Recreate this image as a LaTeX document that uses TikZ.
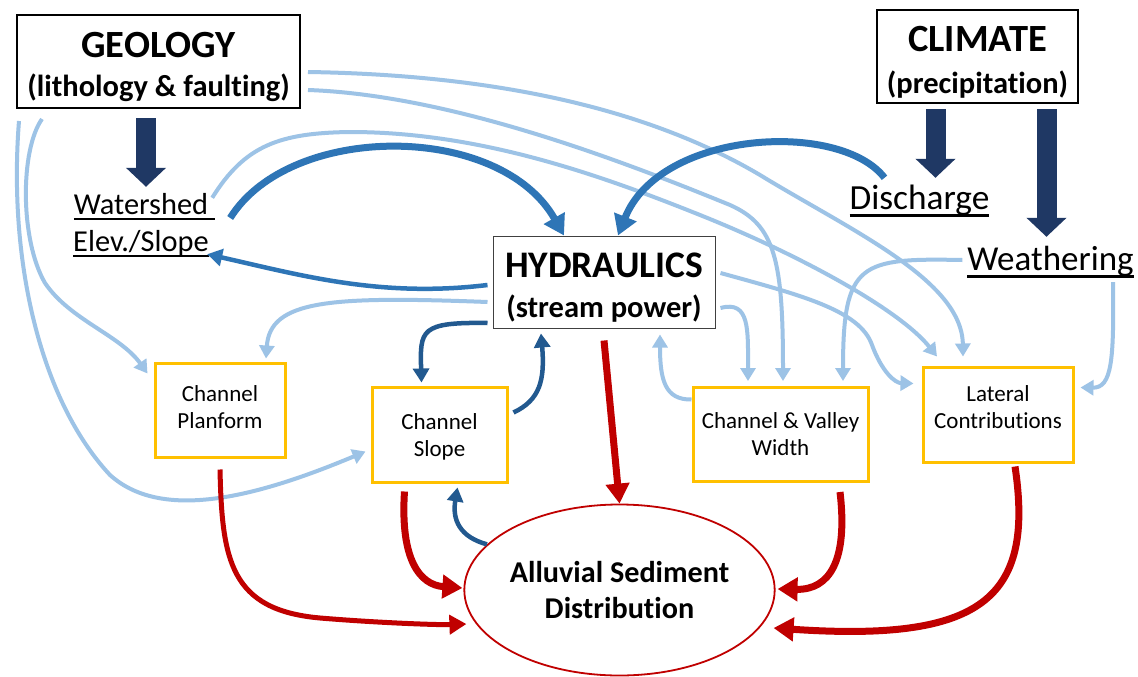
\documentclass[tikz,border=0pt]{standalone}
\usepackage{fontspec}
\setmainfont{Carlito}[Ligatures=NoCommon]
\usetikzlibrary{arrows.meta,shapes.geometric,calc}

\definecolor{lightblue}{HTML}{9DC3E6}
\definecolor{midblue}{HTML}{2E75B6}
\definecolor{darkblue}{HTML}{22598F}
\definecolor{navy}{HTML}{1F3864}
\definecolor{boxyellow}{HTML}{FFC000}
\definecolor{darkred}{HTML}{C00000}

% underlined word with a rule placed like a word-processor underline
\newlength\ulw
\newcommand{\uword}[1]{\settowidth{\ulw}{#1}\rlap{\rule[-0.2em]{\ulw}{0.065em}}#1}
% extra room above a first line (pushes a block of lines down)
\newcommand{\lift}[1]{\rule{0pt}{\dimexpr\fontcharht\font`l+#1\relax}}
% extra room below a last line (pushes a block of lines up)
\newcommand{\sink}[1]{\rule[-#1]{0pt}{#1}}

\begin{document}
\begin{tikzpicture}[x=1pt,y=-1pt,
  mainbox/.style={draw, line width=2pt, align=center, inner sep=0pt, font=\bfseries\fontsize{30.5}{37}\selectfont},
  factor/.style={draw=boxyellow, line width=3pt, align=center, inner sep=0pt, font=\fontsize{23}{27}\selectfont},
  label/.style={align=center, inner sep=0pt},
  lb/.style={lightblue, line width=4pt, -{Triangle[length=13pt,width=15pt]}},
  db/.style={darkblue, line width=4.5pt, -{Triangle[length=14pt,width=16pt]}},
  mb/.style={midblue, line width=7pt, -{Triangle[length=20pt,width=23pt]}},
  rd/.style={darkred, line width=7pt, -{Triangle[length=20pt,width=23pt]}},
  blockarrow/.style={navy, line width=20pt, -{Triangle[length=19pt,width=39pt]}}
]
\clip (0,0) rectangle (1138,677);
\fill[white] (0,0) rectangle (1138,677);

% ---------- nodes ----------
\node[mainbox, minimum width=283pt, minimum height=93pt] (geo) at (158.5,61.5)
  {{\fontsize{38.5}{37}\selectfont\lift{10pt}GEOLOGY}\\[2pt](lithology \& faulting)};
\node[mainbox, minimum width=201pt, minimum height=93pt] (clim) at (977.5,56.5)
  {{\fontsize{38.5}{37}\selectfont\lift{9pt}CLIMATE}\\[5pt](precipitation)};
\node[mainbox, draw=black!75, line width=1pt, minimum width=222pt, minimum height=92pt] (hyd) at (604,282)
  {{\fontsize{37.5}{37}\selectfont\lift{9pt}HYDRAULICS}\\[3pt](stream power)};

\node[label, minimum width=140pt, minimum height=70pt, font=\fontsize{30.4}{37}\selectfont] (ws) at (141,225)
  {\uword{Watershed\ }\\\uword{Elev./Slope}};
\node[label, minimum width=140pt, minimum height=40pt, font=\fontsize{35.3}{40}\selectfont] (dis) at (919.5,201)
  {\uword{Discharge}};
\node[label, minimum width=168pt, minimum height=40pt, font=\fontsize{35}{40}\selectfont] (wea) at (1050.5,262)
  {\uword{Weathering}};

\node[factor, minimum width=130pt, minimum height=94pt] (cp) at (220,410) {Channel\\Planform\sink{6pt}};
\node[factor, minimum width=135pt, minimum height=95pt] (cs) at (439.5,434.5) {\lift{5pt}Channel\\Slope};
\node[factor, minimum width=175pt, minimum height=94pt] (cvw) at (780.5,434.5) {Channel \& Valley\\Width};
\node[factor, minimum width=150pt, minimum height=95pt] (lat) at (998,414.5) {Lateral\\Contributions\sink{15pt}};

\node[ellipse, draw=darkred, line width=1.8pt, fill=white, inner sep=0pt,
      minimum width=275pt, minimum height=171pt, align=center,
      font=\bfseries\fontsize{30.2}{36}\selectfont] (asd) at (619.5,590)
  {Alluvial Sediment\\Distribution};

% ---------- block arrows ----------
\draw[blockarrow] ($(geo.south)+(-12.5,9)$) -- ($(ws.north)+(5,-3)$);
\draw[blockarrow] ($(clim.south)+(-42,5)$) -- ($(dis.north)+(16,-3)$);
\draw[blockarrow] ($(clim.south)+(69,5)$) -- ($(wea.north)+(-4,-5)$);

% ---------- light blue influences ----------
% geology to channel & valley width
\draw[lb] ($(geo.east)+(7,28.5)$) .. controls (450,95) and (620,160) .. (730,205)
  .. controls (775,225) and (783,260) .. ($(cvw.north)+(2.5,-5)$);
% geology to lateral contributions
\draw[lb] ($(geo.east)+(7,10.5)$) .. controls (500,75) and (650,110) .. (760,175)
  .. controls (850,230) and (962,280) .. ($(lat.north)+(-35,-9)$);
% watershed to lateral contributions
\draw[lb] ($(ws.north east)+(1,8)$) .. controls (245,145) and (280,133) .. (350,132)
  .. controls (480,132) and (600,175) .. (700,215)
  .. controls (800,255) and (900,310) .. ($(lat.north)+(-61,-9)$);
% geology to channel slope
\draw[lb] ($(geo.south west)+(3,12)$) .. controls (8,260) and (40,400) .. (110,475)
  .. controls (160,520) and (250,500) .. ($(cs.west)+(-5,17)$);
% geology to channel planform
\draw[lb] ($(geo.south west)+(26,10)$) .. controls (20,150) and (20,240) .. (45,283)
  .. controls (70,320) and (120,335) .. ($(cp.north west)+(-6,12)$);
% hydraulics to channel planform
\draw[lb] ($(hyd.west)+(-5,20)$) .. controls (330,296) and (270,300) .. ($(cp.north)+(46,-3)$);
% hydraulics to channel & valley width
\draw[lb] ($(hyd.east)+(5,26)$) .. controls (750,300) and (748,330) .. ($(cvw.north)+(-32.5,-5)$);
% channel & valley width back to hydraulics
\draw[lb] ($(cvw.west)+(0,-35)$) .. controls (665,400) and (660,380) .. ($(hyd.south)+(56,6)$);
% hydraulics to lateral contributions
\draw[lb] ($(hyd.east)+(5,-9)$) .. controls (800,295) and (860,310) .. (872,345)
  .. controls (882,372) and (895,383) .. ($(lat.west)+(-8,-31)$);
% weathering to channel & valley width
\draw[lb] ($(wea.west)+(-4,-2)$) .. controls (860,258) and (843,262) .. ($(cvw.north)+(62.5,-5)$);
% weathering to lateral contributions
\draw[lb] ($(wea.south)+(62.5,0)$) .. controls (1114,360) and (1112,388) .. ($(lat.east)+(6,-27)$);

% ---------- hydraulics feedbacks ----------
\draw[midblue, line width=4.5pt, -{Triangle[length=15pt,width=17pt]}]
  ($(hyd.west)+(-5,3)$) .. controls (380,298) and (300,275) .. ($(ws.south east)+(-4,-6)$);
\draw[mb] ($(ws.east)+(19,-7)$) .. controls (290,122) and (500,122) .. ($(hyd.north)+(-40,0)$);
\draw[mb] ($(dis.north)+(-35,-3)$) .. controls (840,120) and (660,130) .. ($(hyd.north)+(14,0)$);

\draw[db] ($(hyd.west)+(-5,41)$) .. controls (420,322) and (420,330) .. ($(cs.north)+(-18,-3)$);
\draw[db] ($(cs.east)+(5,-22)$) .. controls (540,400) and (545,380) .. ($(hyd.south)+(-63,5)$);
\draw[db] (asd.161) .. controls (460,537) and (452,520) .. ($(cs.south)+(18,4)$);

% ---------- red influences on sediment ----------
\draw[rd] ($(hyd.south)+(0,12)$) -- (asd.north);
\draw[rd] ($(cs.south)+(-35,8)$) .. controls (400,560) and (420,585) .. ($(asd.west)+(-1,-2)$);
\draw[darkred, line width=5pt, -{Triangle[length=17pt,width=19pt]}]
  ($(cp.south)+(0,11)$) .. controls (222,560) and (230,610) .. (320,618)
  .. controls (380,623) and (440,625) .. ($(asd.west)+(3,34)$);
\draw[rd] ($(cvw.south)+(59.5,9)$) .. controls (848,560) and (830,590) .. ($(asd.east)+(2,-1)$);
\draw[rd] ($(lat.south)+(17,3)$) .. controls (1035,600) and (980,642) .. ($(asd.east)+(-2,38)$);

\end{tikzpicture}
\end{document}
